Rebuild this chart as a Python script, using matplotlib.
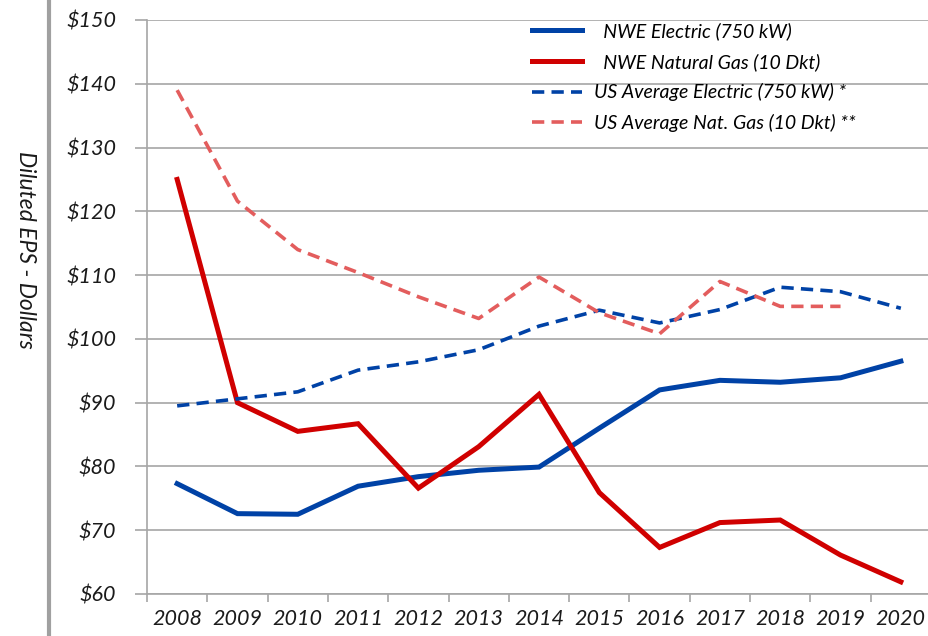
import matplotlib.pyplot as plt
from matplotlib.lines import Line2D
from matplotlib.ticker import FuncFormatter, FixedLocator
import numpy as np

years = ['2008', '2009', '2010', '2011', '2012', '2013', '2014',
         '2015', '2016', '2017', '2018', '2019', '2020']

nwe_electric = [77.3, 72.6, 72.5, 76.9, 78.4, 79.4, 79.9, 86.0, 92.0, 93.5, 93.2, 93.9, 96.5]
nwe_gas = [125.0, 90.0, 85.5, 86.7, 76.6, 83.1, 91.3, 75.9, 67.3, 71.2, 71.6, 66.1, 61.9]
us_electric = [89.5, 90.6, 91.7, 95.1, 96.4, 98.3, 102.0, 104.5, 102.5, 104.6, 108.1, 107.4, 104.8]
us_gas = [139.0, 121.6, 114.0, 110.4, 106.6, 103.2, 109.7, 104.1, 100.8, 109.0, 105.1, 105.1, None]

blue = '#0042A6'
red = '#D00000'
light_red = '#E35D5D'
grid_gray = '#A6A6A6'

plt.rcParams['font.family'] = ['Lato', 'DejaVu Sans']
plt.rcParams['font.style'] = 'italic'

fig = plt.figure(figsize=(9.29, 6.36), dpi=100)
ax = fig.add_axes([147 / 929, 1 - 594 / 636, 784 / 929, 574 / 636])

x = np.arange(len(years))
us_gas_arr = np.array([np.nan if v is None else v for v in us_gas])

ax.plot(x, nwe_electric, color=blue, lw=3.6, label='  NWE Electric (750 kW)', solid_joinstyle='miter')
ax.plot(x, nwe_gas, color=red, lw=3.6, label='  NWE Natural Gas (10 Dkt)', solid_joinstyle='miter')
ax.plot(x, us_electric, color=blue, lw=2.6, ls=(0, (3.4, 2.0)), label='US Average Electric (750 kW) *')
ax.plot(x, us_gas_arr, color=light_red, lw=2.6, ls=(0, (3.4, 2.0)), label='US Average Nat. Gas (10 Dkt) **')

ax.set_xlim(-0.5, len(years) - 0.5)
ax.set_ylim(60, 150)
ax.set_yticks(np.arange(60, 151, 10))
ax.yaxis.set_major_formatter(FuncFormatter(lambda v, p: f'${v:.0f}'))
ax.set_xticks(x)
ax.set_xticklabels(years)
ax.xaxis.set_minor_locator(FixedLocator(np.arange(-0.5, len(years), 1.0)))

ax.grid(axis='y', color=grid_gray, lw=1.2)
ax.set_axisbelow(True)
for s in ['top', 'right']:
    ax.spines[s].set_visible(False)
for s in ['left', 'bottom']:
    ax.spines[s].set_color(grid_gray)
    ax.spines[s].set_linewidth(1.2)

ax.tick_params(axis='y', length=9, width=1.2, color=grid_gray, pad=13, labelsize=15.5, labelcolor='#1a1a1a')
ax.tick_params(axis='x', which='major', length=0, pad=11, labelsize=15.5, labelcolor='#1a1a1a')
ax.tick_params(axis='x', which='minor', length=6, width=1.2, color=grid_gray)

ax.set_ylabel('Diluted EPS - Dollars', fontsize=16.5, color='#1a1a1a', rotation=270, va='center')
ax.yaxis.set_label_coords(-122 / 784, 0.6)

ax.legend(loc='upper left', bbox_to_anchor=(375 / 784, 1.013), frameon=False,
          fontsize=14, handlelength=2.6, handletextpad=0.6, labelspacing=0.65,
          borderaxespad=0.1)

fig.add_artist(Line2D([49 / 929, 49 / 929], [0, 1], color='#A0A0A0', lw=3))

fig.savefig('out.png', dpi=100)
